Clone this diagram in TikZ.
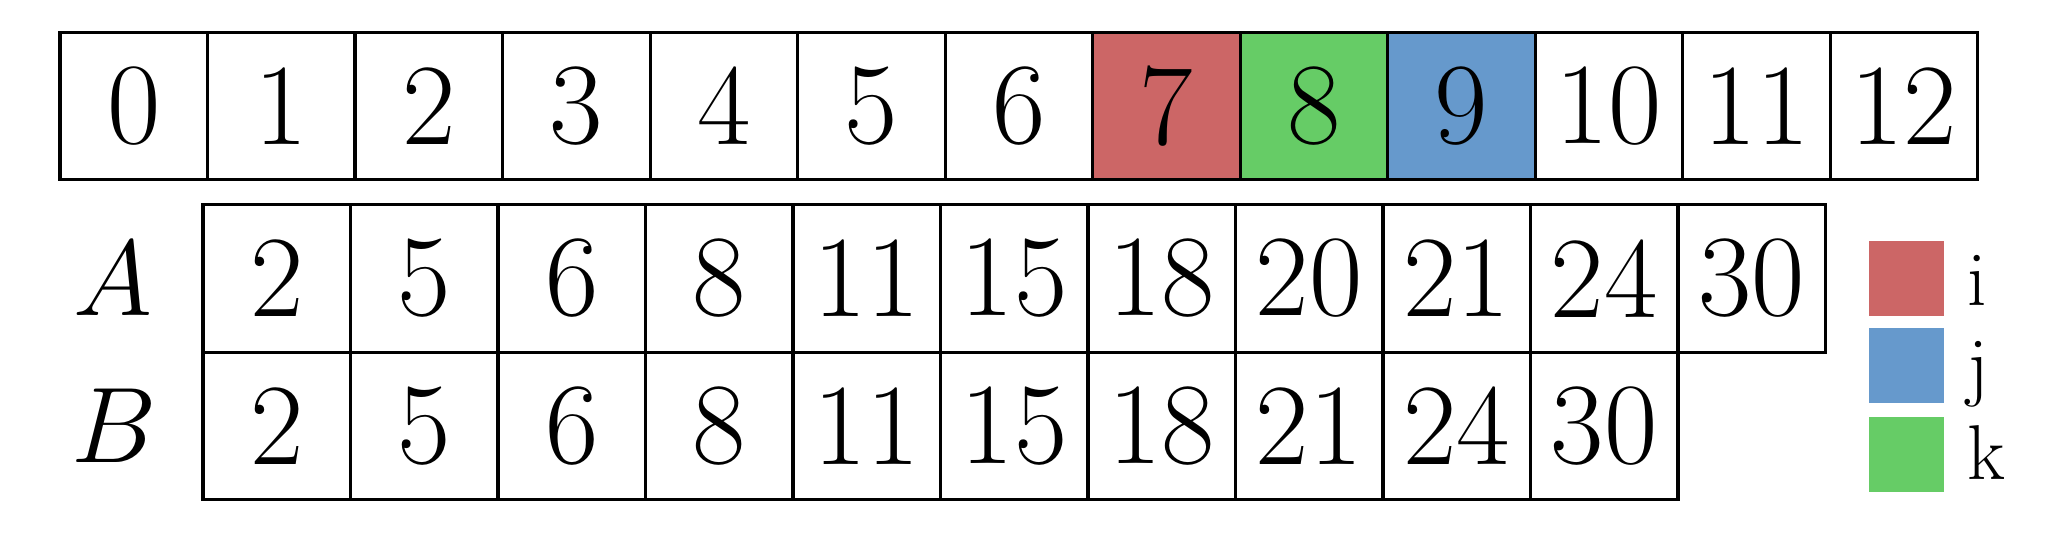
\documentclass[tikz,border=0pt]{standalone}
\usepackage{tikz}
\tikzset{every picture/.style={/utils/exec={\fontsize{22.4}{27}\selectfont}}}
\definecolor{ired}{HTML}{CC6666}
\definecolor{jblue}{HTML}{6699CC}
\definecolor{kgreen}{HTML}{66CC66}
\tikzstyle{cell}=[draw, line width=0.6pt, minimum size=1cm, inner sep=0pt, outer sep=0pt]
\tikzstyle{key}=[minimum size=0.508cm, inner sep=0pt, outer sep=0pt]
\tikzstyle{keylabel}=[inner sep=0pt, anchor=base west, font=\fontsize{15}{18}\selectfont]
\tikzstyle{rowname}=[inner sep=0pt, anchor=east]
\begin{document}
\begin{tikzpicture}
    \useasboundingbox (0,0) rectangle (13.986,-3.654);
    % index row
    \foreach \i/\c in {0/white,1/white,2/white,3/white,4/white,5/white,6/white,
                       7/ired,8/kgreen,9/jblue,10/white,11/white,12/white} {
      \node[cell, fill=\c] (Idx\i) at (0.907+\i,-0.718) {\i};
    }
    % arrays
    \foreach \v [count=\n from 0] in {2,5,6,8,11,15,18,20,21,24,30} {
      \node[cell] (A\n) at (1.876+\n,-1.888) {\v};
    }
    \foreach \v [count=\n from 0] in {2,5,6,8,11,15,18,21,24,30} {
      \node[cell] (B\n) at (1.876+\n,-2.888) {\v};
    }
    \node[rowname] (NameA) at (1.04,-1.888) {$A$};
    \node[rowname] (NameB) at (1.07,-2.888) {$B$};
    % legend
    \node[key, fill=ired]   (KeyI) at (12.925,-1.888) {};
    \node[key, fill=jblue]  (KeyJ) at (12.925,-2.475) {};
    \node[key, fill=kgreen] (KeyK) at (12.925,-3.078) {};
    \node[keylabel] (LabI) at (13.33,-2.068) {i};
    \node[keylabel] (LabJ) at (13.33,-2.651) {j};
    \node[keylabel] (LabK) at (13.33,-3.254) {k};
  \end{tikzpicture}
\end{document}
